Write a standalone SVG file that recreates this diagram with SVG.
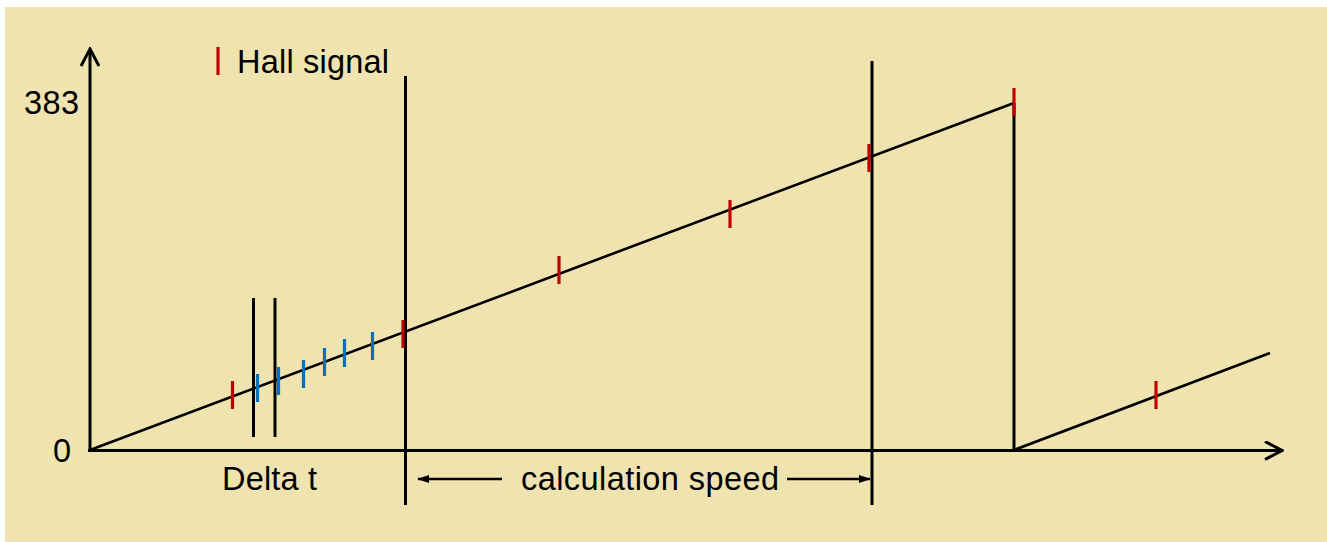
<svg xmlns="http://www.w3.org/2000/svg" width="1327" height="542" viewBox="0 0 1327 542">
<style>
.ln{stroke:#000;stroke-width:3;fill:none}
.ramp{stroke:#000;stroke-width:2.6;fill:none}
.red{stroke:#C00000;stroke-width:3.2}
.blue{stroke:#0070C0;stroke-width:3.2}
.t{font-family:"Liberation Sans",Arial,sans-serif;font-size:32.5px;fill:#000}
</style>
<defs>
<marker id="open" viewBox="0 0 20 20" refX="18" refY="10" markerWidth="20" markerHeight="20" markerUnits="userSpaceOnUse" orient="auto">
<path d="M1,1 L18,10 L1,19" fill="none" stroke="#000" stroke-width="3"/>
</marker>
<marker id="solid" viewBox="0 0 12 10" refX="11" refY="5" markerWidth="12" markerHeight="10" markerUnits="userSpaceOnUse" orient="auto">
<path d="M0,1 L12,5 L0,9 Z" fill="#000"/>
</marker>
</defs>
<rect x="0" y="0" width="1327" height="542" fill="#fff"/>
<rect x="5" y="7" width="1322" height="535" fill="#EFE3B0"/>
<g id="connectors">
<line id="y-axis" class="ln" x1="90" y1="451" x2="90" y2="49" marker-end="url(#open)"/>
<line id="x-axis" class="ln" x1="88" y1="450.5" x2="1282" y2="450.5" marker-end="url(#open)"/>
<line class="ramp" x1="90" y1="450" x2="1014" y2="103"/>
<line class="ramp" x1="1014" y1="450" x2="1270" y2="353"/>
<line class="ln" x1="1014" y1="103" x2="1014" y2="451"/>
<line class="ln" x1="405.5" y1="76" x2="405.5" y2="505"/>
<line class="ln" x1="872" y1="61" x2="872" y2="505"/>
<line class="ln" x1="253.5" y1="298" x2="253.5" y2="437"/>
<line class="ln" x1="275" y1="298" x2="275" y2="437"/>
<line x1="502" y1="479" x2="418" y2="479" stroke="#000" stroke-width="2.5" marker-end="url(#solid)"/>
<line x1="787" y1="479" x2="870" y2="479" stroke="#000" stroke-width="2.5" marker-end="url(#solid)"/>
</g>
<g id="hall-ticks">
<line class="red" x1="232.5" y1="381" x2="232.5" y2="409"/>
<line class="red" x1="403" y1="320" x2="403" y2="348"/>
<line class="red" x1="559" y1="256" x2="559" y2="284"/>
<line class="red" x1="730" y1="200" x2="730" y2="228"/>
<line class="red" x1="869" y1="144" x2="869" y2="172"/>
<line class="red" x1="1014" y1="88" x2="1014" y2="116"/>
<line class="red" x1="1156" y1="381" x2="1156" y2="409"/>
</g>
<g id="sub-ticks">
<line class="blue" x1="257.5" y1="374" x2="257.5" y2="402"/>
<line class="blue" x1="278.5" y1="367" x2="278.5" y2="395"/>
<line class="blue" x1="303.5" y1="360" x2="303.5" y2="388"/>
<line class="blue" x1="324.5" y1="348" x2="324.5" y2="376"/>
<line class="blue" x1="344.5" y1="339" x2="344.5" y2="367"/>
<line class="blue" x1="372.5" y1="332" x2="372.5" y2="360"/>
</g>
<g id="legend">
<line class="red" x1="218" y1="47" x2="218" y2="75"/>
<text class="t" x="237" y="72.5" textLength="152" lengthAdjust="spacing">Hall signal</text>
</g>
<g id="labels">
<text class="t" x="24" y="114" textLength="55" lengthAdjust="spacing">383</text>
<text class="t" x="53" y="462">0</text>
<text class="t" x="222" y="490" textLength="95" lengthAdjust="spacing">Delta t</text>
<text class="t" x="521" y="490" textLength="258" lengthAdjust="spacing">calculation speed</text>
</g>
</svg>
